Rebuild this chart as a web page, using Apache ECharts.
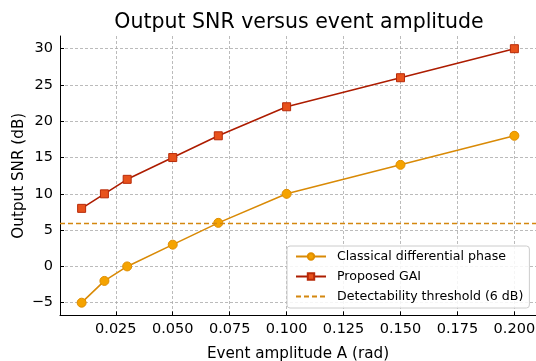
<!DOCTYPE html>
<html>
<head>
<meta charset="utf-8">
<script src="https://cdn.jsdelivr.net/npm/echarts@6/dist/echarts.min.js"></script>
<style>html,body{margin:0;padding:0;background:#fff;}#c{width:536px;height:361px;}</style>
</head>
<body>
<div id="c"></div>
<script>
var amplitudes = [0.01, 0.02, 0.03, 0.05, 0.07, 0.10, 0.15, 0.20];
var classical = [-5, -2, 0, 3, 6, 10, 14, 18];
var proposed = [8, 10, 12, 15, 18, 22, 26, 30];
var threshold = 6;
var xTicks = [0.025, 0.05, 0.075, 0.1, 0.125, 0.15, 0.175, 0.2];
var yTicks = [-5, 0, 5, 10, 15, 20, 25, 30];

function pairs(xs, ys) { return xs.map(function (x, i) { return [x, ys[i]]; }); }

var font = 'DejaVu Sans';
var chart = echarts.init(document.getElementById('c'), null, {renderer: 'canvas'});
chart.setOption({
  animation: false,
  backgroundColor: '#fff',
  title: {
    text: 'Output SNR versus event amplitude',
    left: 294, top: 7, textAlign: 'center',
    textStyle: {fontFamily: font, fontSize: 20.5, fontWeight: 'normal', color: '#000'}
  },
  grid: {left: 60, top: 36, right: 0, height: 279.4, containLabel: false, outerBoundsMode: 'none'},
  legend: {
    orient: 'vertical', left: 287, top: 246,
    padding: [4, 6, 5, 8], itemGap: 7, itemWidth: 30, itemHeight: 8,
    backgroundColor: 'rgba(255,255,255,0.85)', borderColor: '#cccccc', borderWidth: 1, borderRadius: 3,
    textStyle: {fontFamily: font, fontSize: 12.6, color: '#000', padding: [0, 0, 0, 6]},
    data: ['Classical differential phase', 'Proposed GAI',
      {name: 'Detectability threshold (6 dB)', itemStyle: {opacity: 0}}]
  },
  xAxis: {
    type: 'value', min: 0.0005, max: 0.2095,
    name: 'Event amplitude A (rad)', nameLocation: 'middle', nameGap: 31, nameMoveOverlap: false,
    nameTextStyle: {fontFamily: font, fontSize: 15.2, color: '#000'},
    axisLine: {onZero: false, lineStyle: {color: '#000', width: 1}},
    axisTick: {inside: true, length: 4, lineStyle: {color: '#000'}, customValues: xTicks},
    axisLabel: {customValues: xTicks, fontFamily: font, fontSize: 14.5, color: '#000', margin: 6,
      formatter: function (v) { return v.toFixed(3); }},
    splitLine: {show: true, lineStyle: {color: '#aaaaaa', type: [3, 2], width: 0.8}}
  },
  yAxis: {
    type: 'value', min: -6.75, max: 31.75,
    name: 'Output SNR (dB)', nameLocation: 'middle', nameGap: 33, nameMoveOverlap: false,
    nameTextStyle: {fontFamily: font, fontSize: 15.2, color: '#000'},
    axisLine: {onZero: false, lineStyle: {color: '#000', width: 1}},
    axisTick: {show: true, inside: true, length: 4, lineStyle: {color: '#000'}, customValues: yTicks},
    axisLabel: {customValues: yTicks, fontFamily: font, fontSize: 14.5, color: '#000', margin: 7,
      formatter: function (v) { return v < 0 ? '\u2212' + Math.abs(v) : String(v); }},
    splitLine: {show: true, lineStyle: {color: '#aaaaaa', type: [3, 2], width: 0.8}}
  },
  series: [
    {
      name: 'Classical differential phase', type: 'line', data: pairs(amplitudes, classical),
      symbol: 'circle', symbolSize: 9,
      lineStyle: {color: '#d98a06', width: 1.6},
      itemStyle: {color: '#f5a300', borderColor: '#e08e00', borderWidth: 1},
      z: 3
    },
    {
      name: 'Proposed GAI', type: 'line', data: pairs(amplitudes, proposed),
      symbol: 'rect', symbolSize: 8,
      lineStyle: {color: '#ad1c00', width: 1.6},
      itemStyle: {color: '#e8521c', borderColor: '#b82a08', borderWidth: 1},
      z: 3
    },
    {
      name: 'Detectability threshold (6 dB)', type: 'line', data: [],
      symbol: 'none',
      lineStyle: {color: '#d4870f', width: 1.4, type: [5, 3]},
      itemStyle: {color: '#d4870f'},
      markLine: {
        silent: true, symbol: ['none', 'none'], label: {show: false},
        lineStyle: {color: '#d4870f', width: 1.4, type: [5, 3]},
        data: [{yAxis: threshold}]
      },
      z: 2
    }
  ]
});
</script>
</body>
</html>
